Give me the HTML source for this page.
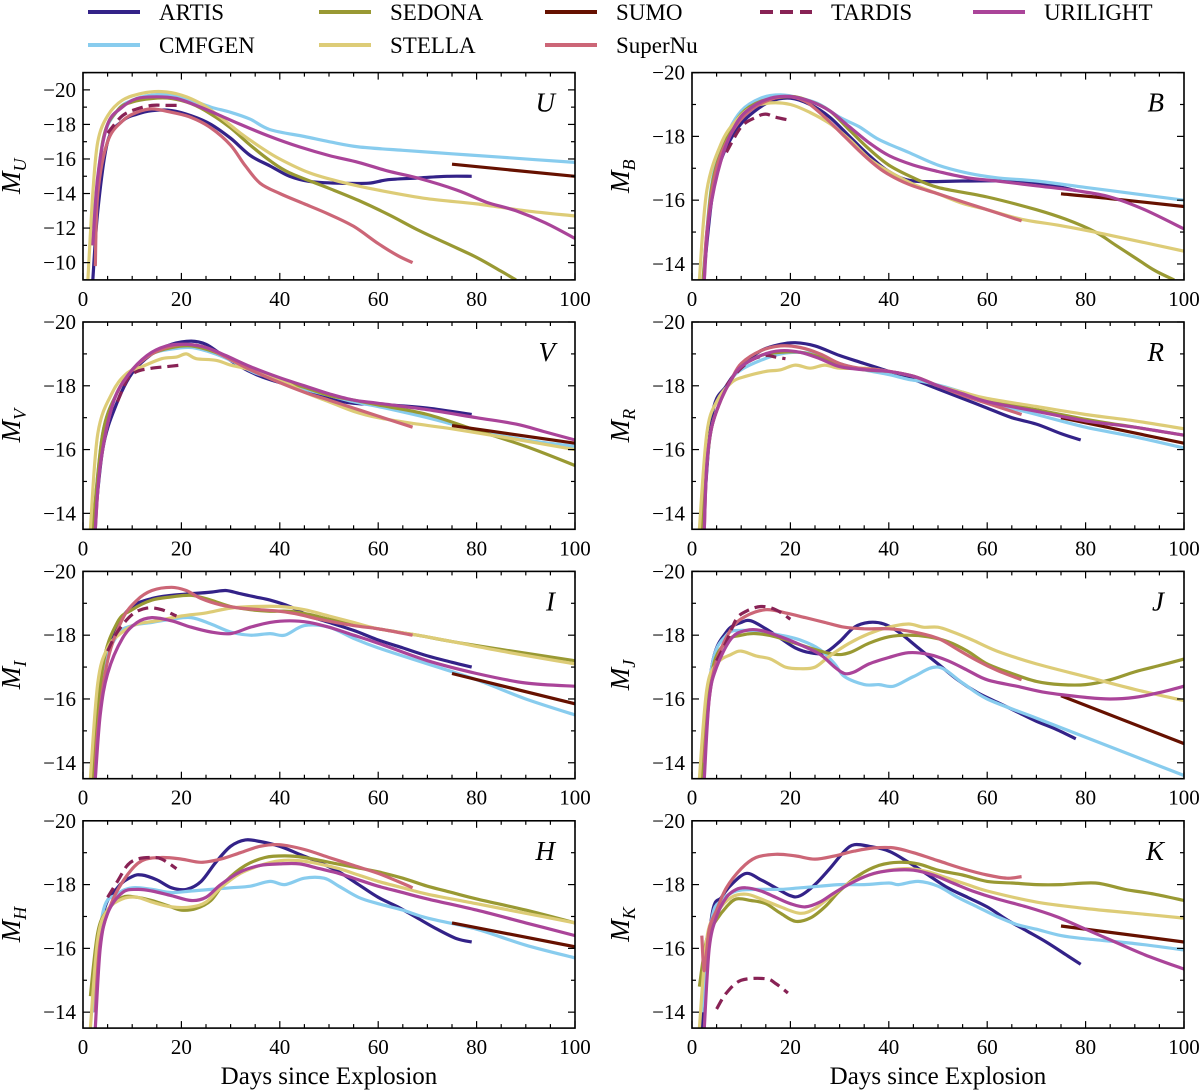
<!DOCTYPE html>
<html><head><meta charset="utf-8"><style>
html,body{margin:0;padding:0;background:#fff}
svg{display:block}
text{font-family:"Liberation Serif",serif;fill:#000}
</style></head><body>
<svg id="fig" width="1200" height="1091" viewBox="0 0 1200 1091" xmlns="http://www.w3.org/2000/svg">
<g id="legend"></g>
<g id="panels"></g>
</svg>
<script>
const models = ["ARTIS","CMFGEN","SEDONA","STELLA","SUMO","SuperNu","TARDIS","URILIGHT"];
const colors = {ARTIS:"#332288",CMFGEN:"#88ccee",SEDONA:"#999933",STELLA:"#ddcc77",SUMO:"#661100",SuperNu:"#cc6677",TARDIS:"#882255",URILIGHT:"#aa4499"};
const bands = ["U","B","V","R","I","J","H","K"];
const xTicks = [0,20,40,60,80,100];

const U_ARTIS=[[2,-9],[3,-13],[5,-17],[8,-18.2],[11,-18.6],[14,-18.8],[18,-18.8],[22,-18.5],[26,-18],[30,-17.2],[34,-16.2],[38,-15.6],[42,-15],[46,-14.7],[52,-14.6],[58,-14.6],[62,-14.8],[68,-14.9],[74,-15],[79,-15]];
const U_CMFGEN=[[2,-12],[4,-17],[7,-18.8],[10,-19.4],[14,-19.7],[18,-19.7],[22,-19.4],[26,-19],[30,-18.7],[34,-18.3],[38,-17.7],[45,-17.3],[50,-17],[56,-16.7],[65,-16.5],[75,-16.3],[85,-16.1],[100,-15.8]];
const U_SEDONA=[[2,-11],[4,-17],[7,-18.8],[10,-19.3],[14,-19.5],[18,-19.5],[22,-19.2],[26,-18.6],[30,-17.8],[34,-16.8],[38,-15.9],[42,-15.2],[50,-14.3],[56,-13.6],[62,-12.8],[68,-11.9],[74,-11.1],[80,-10.3],[85,-9.5],[88,-9]];
const U_STELLA=[[1,-9],[2,-14],[3,-17],[5,-18.5],[8,-19.4],[12,-19.8],[16,-19.9],[20,-19.7],[24,-19.2],[28,-18.4],[32,-17.5],[36,-16.7],[40,-16],[46,-15.2],[52,-14.7],[60,-14.2],[70,-13.7],[80,-13.4],[90,-13.0],[100,-12.7]];
const U_SUMO=[[75,-15.7],[100,-15.0]];
const U_SuperNu=[[2.5,-9.8],[3,-14],[5,-17],[8,-18.2],[11,-18.7],[14,-18.9],[18,-18.7],[22,-18.4],[26,-17.8],[30,-16.8],[33,-15.6],[36,-14.6],[40,-14],[45,-13.4],[50,-12.8],[55,-12.1],[60,-11.1],[64,-10.4],[67,-10]];
const U_TARDIS=[[5,-17.5],[8,-18.5],[11,-18.9],[14,-19.1],[17,-19.1],[20,-19.1]];
const U_URILIGHT=[[2,-11],[3,-15],[5,-18],[8,-19],[11,-19.5],[15,-19.6],[19,-19.5],[23,-19.1],[28,-18.5],[32,-18],[38,-17.3],[44,-16.7],[50,-16.2],[56,-15.8],[62,-15.3],[68,-14.9],[76,-14.2],[82,-13.5],[88,-13],[94,-12.3],[100,-11.4]];

const B_ARTIS=[[2,-13],[4,-16],[6,-17.3],[9,-18.2],[12,-18.7],[16,-19.1],[20,-19.2],[24,-19],[28,-18.6],[32,-18],[36,-17.4],[40,-16.9],[45,-16.6],[55,-16.6],[65,-16.6],[72,-16.5],[78,-16.3]];
const B_CMFGEN=[[2,-13],[4,-16.5],[7,-18],[10,-18.8],[14,-19.2],[18,-19.3],[22,-19.2],[26,-19],[30,-18.6],[34,-18.3],[38,-17.9],[44,-17.5],[50,-17.1],[56,-16.85],[62,-16.7],[70,-16.6],[80,-16.4],[90,-16.2],[100,-16]];
const B_SEDONA=[[2,-13],[4,-16.4],[7,-17.9],[10,-18.7],[14,-19.1],[20,-19.25],[24,-19.1],[28,-18.8],[32,-18.2],[36,-17.6],[40,-17.1],[45,-16.7],[50,-16.4],[60,-16.1],[70,-15.7],[76,-15.4],[82,-15],[86,-14.6],[90,-14.2],[94,-13.8],[98,-13.5]];
const B_STELLA=[[1.5,-13.5],[3,-16.3],[6,-17.8],[9,-18.5],[12,-18.9],[16,-19.05],[20,-19],[24,-18.75],[28,-18.4],[32,-17.9],[36,-17.3],[40,-16.9],[45,-16.5],[50,-16.2],[55,-15.9],[60,-15.7],[67,-15.4],[75,-15.2],[85,-14.9],[100,-14.4]];
const B_SUMO=[[75,-16.2],[85,-16.05],[100,-15.8]];
const B_SuperNu=[[2.5,-13.5],[3,-15],[5,-17],[8,-18.1],[11,-18.7],[15,-19.1],[19,-19.25],[23,-19.1],[27,-18.6],[31,-18],[35,-17.4],[39,-16.9],[44,-16.5],[50,-16.2],[56,-15.9],[62,-15.6],[67,-15.35]];
const B_TARDIS=[[7,-17.5],[10,-18.3],[13,-18.6],[15,-18.7],[17,-18.6],[20,-18.5]];
const B_URILIGHT=[[2.5,-13.5],[3.5,-15.5],[6,-17.3],[9,-18.4],[12,-18.9],[16,-19.2],[20,-19.25],[24,-19.1],[28,-18.8],[32,-18.3],[36,-17.8],[40,-17.4],[45,-17.1],[50,-16.9],[56,-16.7],[62,-16.6],[70,-16.45],[78,-16.3],[85,-16.1],[92,-15.7],[100,-15.1]];

const V_ARTIS=[[2,-13],[4,-16],[7,-17.5],[10,-18.4],[14,-19],[18,-19.3],[22,-19.4],[25,-19.3],[28,-19],[32,-18.6],[36,-18.3],[40,-18.1],[45,-17.9],[50,-17.6],[55,-17.45],[62,-17.4],[70,-17.3],[79,-17.1]];
const V_CMFGEN=[[2,-13.5],[4,-16.5],[7,-17.8],[10,-18.5],[14,-19],[18,-19.15],[22,-19.2],[26,-19.05],[30,-18.8],[35,-18.4],[40,-18.2],[45,-17.9],[50,-17.7],[55,-17.5],[60,-17.35],[70,-17.0],[80,-16.6],[90,-16.3],[100,-16.1]];
const V_SEDONA=[[2,-13.5],[4,-16.5],[7,-17.8],[10,-18.5],[14,-19],[18,-19.2],[22,-19.25],[26,-19.1],[30,-18.85],[35,-18.5],[40,-18.2],[45,-17.95],[50,-17.7],[55,-17.55],[60,-17.4],[70,-17.1],[80,-16.6],[90,-16.1],[100,-15.5]];
const V_STELLA=[[1.5,-13.5],[3,-16.5],[6,-17.8],[9,-18.4],[12,-18.6],[16,-18.85],[19,-18.9],[21,-19],[23,-18.85],[27,-18.8],[30,-18.65],[34,-18.5],[40,-18.2],[45,-17.8],[50,-17.5],[55,-17.2],[60,-17],[68,-16.8],[75,-16.65],[85,-16.4],[100,-16]];
const V_SUMO=[[75,-16.75],[100,-16.2]];
const V_SuperNu=[[2.5,-13.5],[3.5,-15.5],[6,-17.4],[9,-18.3],[13,-18.9],[17,-19.2],[21,-19.3],[25,-19.2],[29,-18.9],[34,-18.5],[40,-18.1],[45,-17.8],[50,-17.55],[55,-17.3],[60,-17.05],[67,-16.7]];
const V_TARDIS=[[7,-17.5],[9,-18.2],[11,-18.45],[14,-18.55],[17,-18.6],[20,-18.65]];
const V_URILIGHT=[[2.5,-13.5],[3.5,-15.5],[6,-17.4],[9,-18.3],[13,-18.95],[17,-19.25],[21,-19.3],[25,-19.2],[29,-18.95],[34,-18.6],[40,-18.25],[45,-18],[50,-17.75],[55,-17.55],[60,-17.45],[70,-17.25],[80,-17],[88,-16.8],[94,-16.55],[100,-16.3]];

const R_ARTIS=[[2,-13],[4,-17],[7,-18],[10,-18.6],[14,-19.1],[18,-19.3],[21,-19.35],[25,-19.25],[30,-18.95],[35,-18.7],[40,-18.45],[45,-18.2],[50,-17.9],[55,-17.6],[60,-17.3],[65,-17],[70,-16.8],[75,-16.5],[79,-16.3]];
const R_CMFGEN=[[2,-13.5],[3,-15.5],[4,-16.7],[6,-17.6],[8,-18.2],[10,-18.5],[14,-18.8],[18,-19],[22,-19.05],[26,-18.95],[30,-18.7],[35,-18.5],[40,-18.35],[44,-18.2],[48,-18.1],[55,-17.8],[60,-17.5],[70,-17.1],[80,-16.7],[90,-16.4],[100,-16.05]];
const R_SEDONA=[[2,-13.5],[3,-15.5],[4,-16.7],[6,-17.6],[8,-18.2],[10,-18.6],[14,-18.95],[18,-19.05],[22,-19.05],[26,-18.9],[30,-18.65],[35,-18.5],[40,-18.45],[45,-18.3],[50,-18],[55,-17.75],[60,-17.55],[70,-17.25],[80,-16.95],[90,-16.7],[100,-16.45]];
const R_STELLA=[[1.5,-13.5],[3,-16.5],[5,-17.5],[8,-18.1],[11,-18.3],[15,-18.45],[18,-18.5],[21,-18.65],[24,-18.55],[27,-18.65],[30,-18.55],[35,-18.55],[40,-18.45],[45,-18.3],[50,-18],[55,-17.8],[60,-17.6],[70,-17.35],[80,-17.1],[90,-16.9],[100,-16.65]];
const R_SUMO=[[75,-17],[100,-16.2]];
const R_SuperNu=[[2.5,-13.5],[3,-15.5],[4,-16.7],[6,-17.6],[8,-18.2],[10,-18.7],[14,-19.1],[18,-19.25],[22,-19.2],[26,-19],[30,-18.7],[34,-18.55],[38,-18.5],[42,-18.4],[46,-18.25],[50,-18],[55,-17.7],[60,-17.45],[67,-17.1]];
const R_TARDIS=[[7,-18],[9,-18.4],[12,-18.8],[15,-18.95],[17,-18.9],[19,-18.85]];
const R_URILIGHT=[[2.5,-13.5],[3,-15.5],[4,-16.7],[6,-17.6],[8,-18.2],[10,-18.6],[14,-18.95],[18,-19.1],[22,-19.05],[26,-18.85],[30,-18.6],[35,-18.5],[40,-18.45],[45,-18.3],[50,-18],[55,-17.75],[60,-17.5],[70,-17.2],[80,-16.9],[90,-16.7],[100,-16.45]];

const I_ARTIS=[[2,-13.5],[4,-17],[7,-18.3],[10,-18.9],[14,-19.15],[18,-19.25],[22,-19.3],[26,-19.35],[29,-19.4],[32,-19.3],[35,-19.2],[38,-19.1],[42,-18.9],[46,-18.6],[50,-18.4],[55,-18.15],[60,-17.85],[65,-17.6],[70,-17.35],[75,-17.15],[79,-17]];
const I_CMFGEN=[[2,-13.5],[4,-16.8],[7,-18],[10,-18.3],[14,-18.4],[18,-18.5],[22,-18.55],[26,-18.35],[30,-18.1],[34,-18],[38,-18.05],[41,-18],[45,-18.3],[50,-18.25],[55,-17.9],[60,-17.6],[70,-17.1],[80,-16.6],[90,-16],[100,-15.5]];
const I_SEDONA=[[2,-13.5],[4,-17],[7,-18.4],[10,-18.8],[14,-19.1],[18,-19.2],[22,-19.25],[26,-19.1],[30,-18.9],[34,-18.8],[38,-18.75],[42,-18.75],[46,-18.65],[50,-18.5],[55,-18.35],[60,-18.2],[68,-18],[75,-17.8],[85,-17.55],[100,-17.2]];
const I_STELLA=[[1.5,-13.5],[3,-16.5],[5,-17.6],[8,-18.1],[11,-18.35],[15,-18.45],[20,-18.6],[25,-18.7],[30,-18.85],[35,-18.9],[40,-18.9],[45,-18.8],[50,-18.6],[55,-18.4],[60,-18.2],[68,-18],[75,-17.8],[85,-17.5],[100,-17.1]];
const I_SUMO=[[75,-16.8],[100,-15.85]];
const I_SuperNu=[[2.5,-13.5],[3,-15],[5,-17.2],[8,-18.5],[11,-19.1],[14,-19.4],[18,-19.5],[21,-19.4],[24,-19.15],[28,-18.95],[32,-18.85],[36,-18.8],[40,-18.75],[44,-18.65],[48,-18.5],[55,-18.3],[60,-18.2],[67,-18]];
const I_TARDIS=[[5,-17.5],[7,-18.1],[10,-18.65],[13,-18.85],[16,-18.8],[19,-18.6]];
const I_URILIGHT=[[2.5,-13.5],[3.5,-15.5],[5,-16.8],[8,-17.9],[11,-18.4],[14,-18.55],[18,-18.45],[22,-18.25],[26,-18.1],[30,-18.05],[34,-18.25],[38,-18.4],[42,-18.45],[46,-18.4],[50,-18.25],[55,-18],[60,-17.75],[70,-17.2],[80,-16.8],[90,-16.5],[100,-16.4]];

const J_ARTIS=[[2,-13.5],[4,-17],[7,-18.1],[10,-18.4],[12,-18.45],[15,-18.2],[18,-17.9],[21,-17.6],[24,-17.45],[27,-17.45],[30,-17.8],[33,-18.25],[36,-18.4],[39,-18.35],[42,-18.1],[46,-17.6],[50,-17.1],[54,-16.6],[58,-16.2],[62,-15.9],[66,-15.6],[70,-15.3],[74,-15.05],[78,-14.75]];
const J_CMFGEN=[[2,-13.5],[4,-17],[7,-18],[10,-18.15],[14,-18.1],[18,-18],[22,-17.85],[26,-17.55],[29,-17.1],[31,-16.7],[35,-16.45],[38,-16.45],[41,-16.4],[45,-16.7],[50,-17],[55,-16.5],[60,-16],[70,-15.4],[80,-14.8],[90,-14.2],[100,-13.6]];
const J_SEDONA=[[2,-13.5],[4,-16.8],[7,-17.8],[10,-18],[13,-18.05],[17,-17.95],[21,-17.75],[25,-17.55],[29,-17.4],[32,-17.45],[36,-17.75],[40,-17.95],[44,-18.0],[48,-17.95],[52,-17.8],[56,-17.5],[60,-17.1],[65,-16.8],[70,-16.55],[75,-16.45],[80,-16.45],[85,-16.6],[90,-16.85],[95,-17.05],[100,-17.25]];
const J_STELLA=[[1.5,-13.5],[3,-16.3],[5,-17.1],[8,-17.4],[10,-17.5],[13,-17.35],[16,-17.25],[19,-17.0],[22,-16.95],[25,-17],[28,-17.35],[32,-17.75],[36,-18.05],[40,-18.25],[44,-18.35],[47,-18.25],[50,-18.25],[53,-18.1],[57,-17.85],[62,-17.5],[70,-17.1],[80,-16.7],[90,-16.3],[100,-15.95]];
const J_SUMO=[[75,-16.1],[100,-14.6]];
const J_SuperNu=[[2.5,-14],[3.5,-16],[5,-17.2],[8,-18.2],[11,-18.6],[15,-18.8],[19,-18.7],[23,-18.55],[27,-18.4],[31,-18.25],[35,-18.2],[40,-18.2],[45,-18.1],[50,-17.9],[54,-17.55],[58,-17.2],[62,-16.9],[67,-16.6]];
const J_TARDIS=[[5,-17.2],[7,-17.8],[9,-18.5],[11,-18.75],[14,-18.9],[17,-18.8],[20,-18.5]];
const J_URILIGHT=[[2.5,-13.5],[3.5,-16],[5,-17],[8,-17.9],[11,-18.15],[14,-18.15],[18,-17.95],[22,-17.7],[26,-17.4],[29,-17.0],[31,-16.8],[33,-16.85],[36,-17.1],[40,-17.3],[44,-17.45],[48,-17.4],[52,-17.2],[56,-16.9],[60,-16.6],[66,-16.4],[72,-16.2],[80,-16.05],[85,-16],[90,-16.05],[95,-16.2],[100,-16.4]];

const H_ARTIS=[[2,-14],[4,-17],[7,-17.9],[10,-18.25],[12,-18.3],[15,-18.15],[18,-17.9],[21,-17.85],[24,-18.1],[27,-18.7],[30,-19.2],[33,-19.4],[36,-19.35],[40,-19.2],[44,-18.95],[48,-18.7],[52,-18.4],[56,-18],[60,-17.6],[64,-17.3],[68,-16.95],[72,-16.6],[76,-16.3],[79,-16.2]];
const H_CMFGEN=[[2,-14],[4,-17.1],[7,-17.7],[10,-17.9],[14,-17.85],[18,-17.75],[22,-17.8],[26,-17.85],[30,-17.9],[34,-17.95],[38,-18.1],[41,-18],[45,-18.2],[49,-18.2],[52,-17.95],[56,-17.6],[60,-17.4],[65,-17.2],[70,-16.95],[80,-16.6],[90,-16.1],[100,-15.7]];
const H_SEDONA=[[1.5,-14.5],[3,-16.5],[5,-17.2],[8,-17.6],[11,-17.6],[14,-17.5],[17,-17.35],[20,-17.2],[23,-17.25],[26,-17.5],[29,-18.1],[33,-18.6],[37,-18.85],[41,-18.9],[45,-18.85],[50,-18.7],[55,-18.55],[60,-18.4],[65,-18.2],[70,-17.95],[75,-17.75],[80,-17.55],[90,-17.2],[100,-16.8]];
const H_STELLA=[[1.5,-13.5],[3,-16.3],[5,-17.2],[8,-17.55],[11,-17.6],[14,-17.45],[18,-17.3],[22,-17.3],[25,-17.45],[28,-17.9],[32,-18.35],[36,-18.6],[40,-18.75],[44,-18.75],[48,-18.65],[52,-18.5],[56,-18.3],[60,-18.1],[65,-17.9],[70,-17.7],[80,-17.4],[90,-17.1],[100,-16.8]];
const H_SUMO=[[75,-16.8],[100,-16.05]];
const H_SuperNu=[[2.5,-14],[3.5,-16.2],[6,-17.5],[9,-18.3],[12,-18.75],[16,-18.85],[20,-18.8],[24,-18.7],[28,-18.8],[32,-19],[36,-19.2],[40,-19.25],[45,-19.1],[50,-18.85],[55,-18.6],[60,-18.35],[64,-18.1],[67,-17.9]];
const H_TARDIS=[[5,-17.6],[7,-18.1],[9,-18.6],[11,-18.8],[14,-18.85],[16,-18.8],[19,-18.5]];
const H_URILIGHT=[[2.5,-13.5],[3.5,-16],[5,-17.1],[8,-17.75],[11,-17.85],[14,-17.8],[18,-17.65],[22,-17.5],[25,-17.6],[28,-18],[32,-18.4],[36,-18.6],[40,-18.65],[44,-18.65],[48,-18.5],[52,-18.35],[56,-18.15],[60,-17.95],[65,-17.75],[70,-17.55],[80,-17.2],[90,-16.8],[100,-16.4]];

const K_ARTIS=[[2,-13.5],[4,-17],[6,-17.6],[8,-18.0],[11,-18.35],[14,-18.15],[17,-17.9],[20,-17.65],[22,-17.65],[25,-18],[28,-18.5],[31,-19.05],[33,-19.25],[36,-19.2],[40,-19.05],[44,-18.7],[48,-18.3],[52,-17.9],[56,-17.6],[60,-17.3],[64,-16.9],[68,-16.55],[72,-16.2],[76,-15.8],[79,-15.5]];
const K_CMFGEN=[[2,-14],[4,-16.9],[6,-17.5],[9,-17.8],[13,-17.85],[18,-17.85],[22,-17.9],[26,-17.95],[30,-18],[35,-18],[40,-18.05],[42,-18],[46,-18.1],[50,-17.95],[54,-17.6],[58,-17.3],[62,-17],[66,-16.75],[70,-16.6],[75,-16.4],[80,-16.3],[90,-16.15],[100,-15.95]];
const K_SEDONA=[[1.5,-14.8],[3,-16.3],[5,-16.9],[7,-17.3],[9,-17.55],[12,-17.5],[15,-17.4],[18,-17.1],[21,-16.85],[24,-16.95],[27,-17.3],[30,-17.8],[34,-18.3],[38,-18.6],[42,-18.7],[46,-18.65],[50,-18.45],[55,-18.3],[60,-18.1],[65,-18.05],[70,-18],[75,-18],[82,-18.05],[88,-17.85],[94,-17.7],[100,-17.5]];
const K_STELLA=[[1.5,-13.5],[3,-16.3],[5,-17.1],[8,-17.6],[11,-17.7],[14,-17.55],[18,-17.3],[22,-17.1],[25,-17.25],[28,-17.6],[32,-18.05],[36,-18.3],[40,-18.45],[44,-18.5],[48,-18.4],[52,-18.2],[56,-18],[60,-17.8],[70,-17.45],[80,-17.25],[90,-17.1],[100,-16.95]];
const K_SUMO=[[75,-16.7],[100,-16.2]];
const K_SuperNu=[[2,-16.4],[2.5,-15.3],[3.5,-16.6],[5,-17.2],[7,-17.9],[10,-18.5],[13,-18.85],[17,-18.95],[21,-18.9],[25,-18.8],[29,-18.9],[33,-19.05],[37,-19.15],[41,-19.15],[45,-19],[50,-18.75],[55,-18.5],[60,-18.3],[64,-18.2],[67,-18.25]];
const K_TARDIS=[[5,-14.1],[7,-14.6],[10,-15.0],[15,-15.05],[17,-14.9],[19.5,-14.6]];
const K_URILIGHT=[[2.5,-13.5],[3.5,-16],[5,-17],[7,-17.6],[9,-17.85],[11,-17.9],[14,-17.8],[17,-17.6],[20,-17.4],[23,-17.3],[26,-17.45],[29,-17.75],[33,-18.1],[37,-18.35],[41,-18.45],[45,-18.45],[49,-18.3],[53,-18.05],[57,-17.8],[62,-17.55],[68,-17.3],[74,-17],[80,-16.6],[86,-16.2],[92,-15.8],[100,-15.35]];

const U_yTicks=[-20,-18,-16,-14,-12,-10];
const std_yTicks=[-20,-18,-16,-14];

const DATA={U:{ARTIS:U_ARTIS,CMFGEN:U_CMFGEN,SEDONA:U_SEDONA,STELLA:U_STELLA,SUMO:U_SUMO,SuperNu:U_SuperNu,TARDIS:U_TARDIS,URILIGHT:U_URILIGHT},
B:{ARTIS:B_ARTIS,CMFGEN:B_CMFGEN,SEDONA:B_SEDONA,STELLA:B_STELLA,SUMO:B_SUMO,SuperNu:B_SuperNu,TARDIS:B_TARDIS,URILIGHT:B_URILIGHT},
V:{ARTIS:V_ARTIS,CMFGEN:V_CMFGEN,SEDONA:V_SEDONA,STELLA:V_STELLA,SUMO:V_SUMO,SuperNu:V_SuperNu,TARDIS:V_TARDIS,URILIGHT:V_URILIGHT},
R:{ARTIS:R_ARTIS,CMFGEN:R_CMFGEN,SEDONA:R_SEDONA,STELLA:R_STELLA,SUMO:R_SUMO,SuperNu:R_SuperNu,TARDIS:R_TARDIS,URILIGHT:R_URILIGHT},
I:{ARTIS:I_ARTIS,CMFGEN:I_CMFGEN,SEDONA:I_SEDONA,STELLA:I_STELLA,SUMO:I_SUMO,SuperNu:I_SuperNu,TARDIS:I_TARDIS,URILIGHT:I_URILIGHT},
J:{ARTIS:J_ARTIS,CMFGEN:J_CMFGEN,SEDONA:J_SEDONA,STELLA:J_STELLA,SUMO:J_SUMO,SuperNu:J_SuperNu,TARDIS:J_TARDIS,URILIGHT:J_URILIGHT},
H:{ARTIS:H_ARTIS,CMFGEN:H_CMFGEN,SEDONA:H_SEDONA,STELLA:H_STELLA,SUMO:H_SUMO,SuperNu:H_SuperNu,TARDIS:H_TARDIS,URILIGHT:H_URILIGHT},
K:{ARTIS:K_ARTIS,CMFGEN:K_CMFGEN,SEDONA:K_SEDONA,STELLA:K_STELLA,SUMO:K_SUMO,SuperNu:K_SuperNu,TARDIS:K_TARDIS,URILIGHT:K_URILIGHT}};

const NS="http://www.w3.org/2000/svg";
function mk(tag,attrs,parent){const e=document.createElementNS(NS,tag);for(const k in attrs)e.setAttribute(k,attrs[k]);if(parent)parent.appendChild(e);return e;}

function smoothPath(pts){
  if(pts.length<3){return "M"+pts.map(p=>p[0].toFixed(1)+","+p[1].toFixed(1)).join("L");}
  let d="M"+pts[0][0].toFixed(1)+","+pts[0][1].toFixed(1);
  for(let i=0;i<pts.length-1;i++){
    const p0=pts[i-1]||pts[i],p1=pts[i],p2=pts[i+1],p3=pts[i+2]||p2;
    const c1=[p1[0]+(p2[0]-p0[0])/6,p1[1]+(p2[1]-p0[1])/6];
    const c2=[p2[0]-(p3[0]-p1[0])/6,p2[1]-(p3[1]-p1[1])/6];
    d+="C"+c1[0].toFixed(1)+","+c1[1].toFixed(1)+" "+c2[0].toFixed(1)+","+c2[1].toFixed(1)+" "+p2[0].toFixed(1)+","+p2[1].toFixed(1);
  }
  return d;
}

// legend
const legend=document.getElementById('legend');
const legendPos=[["ARTIS",88,12],["SEDONA",319,12],["SUMO",545,12],["TARDIS",760,12],["URILIGHT",973,12],["CMFGEN",88,45],["STELLA",319,45],["SuperNu",545,45]];
legendPos.forEach(([m,x,y])=>{
  const g=mk('g',{},legend);
  
  
  const ln=mk('line',{x1:x,y1:y,x2:x+52,y2:y,stroke:colors[m],'stroke-width':4},g);
  if(m==="TARDIS")ln.setAttribute('stroke-dasharray','13,7');
  const t=mk('text',{x:x+71,y:y+8,'font-size':23},g);
  t.textContent=m;
});

const panels=document.getElementById('panels');
const L=[83,692],W=492,T0=72.6,PITCH=249.4,H=207.3;
bands.forEach((b,idx)=>{
  const col=idx%2,row=Math.floor(idx/2);
  const x0=L[col],y0=T0+row*PITCH;
  const ymin=b==="U"?-21:-20, ymax=b==="U"?-9:-13.5;
  const sx=d=>x0+d/100*W;
  const sy=m=>y0+(m-ymin)/(ymax-ymin)*H;
  const g=mk('g',{},panels);
  
  
  const cid='clip'+b;
  const cp=mk('clipPath',{id:cid},g);
  mk('rect',{x:x0,y:y0,width:W,height:H},cp);
  const lines=mk('g',{'clip-path':'url(#'+cid+')'},g);
  
  
  models.forEach(m=>{
    const arr=DATA[b][m];
    const pts=arr.map(p=>[sx(p[0]),sy(p[1])]);
    const p=mk('path',{d:smoothPath(pts),fill:'none',stroke:colors[m],'stroke-width':3.2,'stroke-linejoin':'round','stroke-linecap':'butt'},lines);
    
    
    if(m==="TARDIS")p.setAttribute('stroke-dasharray','11,6');
  });
  // frame
  const fr=mk('rect',{x:x0,y:y0,width:W,height:H,fill:'none',stroke:'#000','stroke-width':1.6},g);
  
  
  // x ticks
  for(let d=0;d<=100;d+=5){
    const major=d%20===0,len=major?7:4,x=sx(d);
    mk('line',{x1:x,y1:y0+H,x2:x,y2:y0+H-len,stroke:'#000','stroke-width':1.2},g);
    mk('line',{x1:x,y1:y0,x2:x,y2:y0+len,stroke:'#000','stroke-width':1.2},g);
  }
  xTicks.forEach(d=>{
    const t=mk('text',{x:sx(d),y:y0+H+26,'font-size':21,'text-anchor':'middle'},g);
    
    
    t.textContent=d;
  });
  // y ticks
  for(let m=Math.ceil(ymin);m<=Math.floor(ymax);m++){
    const major=m%2===0,len=major?7:4,y=sy(m);
    mk('line',{x1:x0,y1:y,x2:x0+len,y2:y,stroke:'#000','stroke-width':1.2},g);
    mk('line',{x1:x0+W,y1:y,x2:x0+W-len,y2:y,stroke:'#000','stroke-width':1.2},g);
  }
  (b==="U"?U_yTicks:std_yTicks).forEach(m=>{
    const t=mk('text',{x:x0-7,y:sy(m)+7,'font-size':21,'text-anchor':'end'},g);
    
    
    t.textContent="\u2212"+Math.abs(m);
  });
  // y title
  const yt=mk('text',{transform:'translate('+(x0-63)+','+(y0+H/2)+') rotate(-90)','font-size':27,'text-anchor':'middle','font-style':'italic'},g);
  
  
  yt.innerHTML='M<tspan font-size="18" dy="6">'+b+'</tspan>';
  // band label
  const bl=mk('text',{x:x0+W-20,y:y0+39,'font-size':27,'font-style':'italic','text-anchor':'end'},g);
  
  
  bl.textContent=b;
  if(row===3){
    const xt=mk('text',{x:x0+W/2,y:y0+H+56,'font-size':25,'text-anchor':'middle'},g);
    
    
    xt.textContent="Days since Explosion";
  }
});
</script>
</body></html>
